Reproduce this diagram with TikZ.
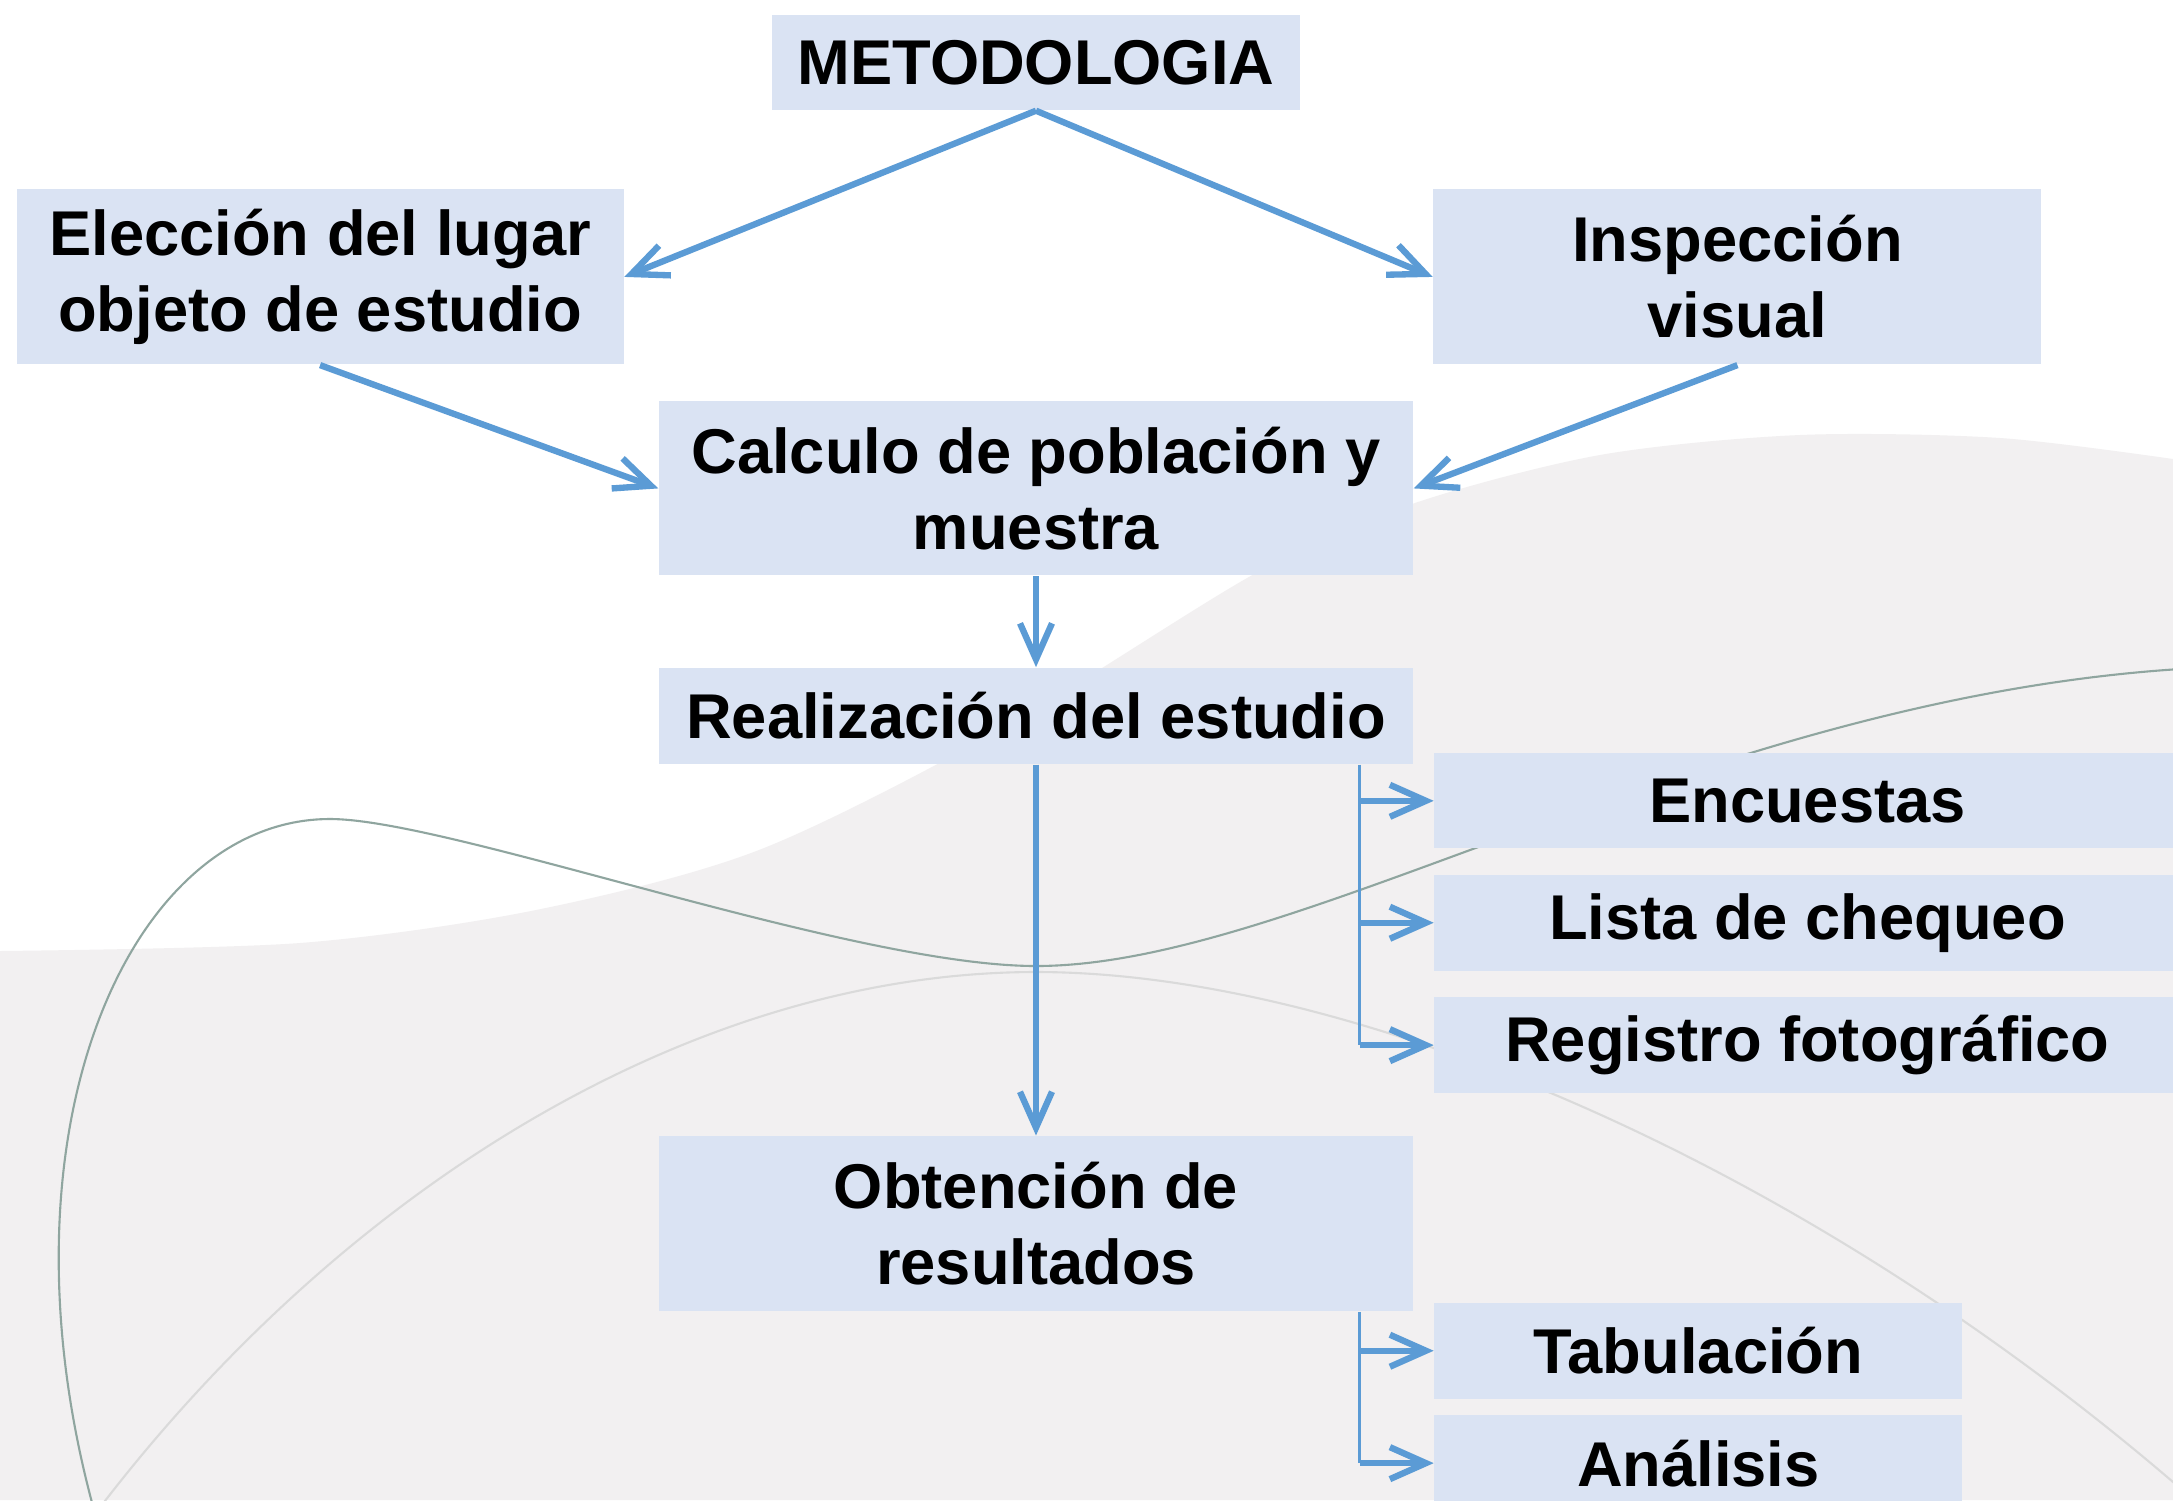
\documentclass[tikz,border=0pt]{standalone}
\usepackage{fontspec}
\setmainfont{Liberation Sans}
\usetikzlibrary{arrows.meta,positioning}
\definecolor{boxblue}{HTML}{DAE3F3}
\definecolor{arrowblue}{HTML}{5B9BD5}
\definecolor{bggray}{HTML}{F2F0F1}
\definecolor{wavegreen}{HTML}{8FA59F}
\definecolor{arcgray}{HTML}{DADADA}
\tikzset{
    -{Straight Barb[length=3.6mm,width=3.2mm]},semithick,
    block/.style ={fill=boxblue, inner sep=0pt, align=center,
                   font=\fontsize{18}{21.6}\selectfont\bfseries},
    flow/.style = {color=arrowblue, line width=1.8pt},
    trunk/.style = {-, draw=arrowblue, line width=0.7pt},
    wave/.style = {-, draw=wavegreen, line width=0.6pt},
    faint/.style = {-, draw=arcgray, line width=0.6pt}
}

\begin{document}
\begin{tikzpicture}
        % background
        \useasboundingbox (0,0) rectangle (21.73,-15);
        \fill[white] (0,0) rectangle (21.73,-15);
        \fill[bggray] plot[smooth] coordinates {(0,-9.51) (3.0,-9.43) (5.36,-9.10)
            (7.59,-8.50) (10.0,-7.3) (12.56,-5.73) (14.12,-5.04) (16.0,-4.55)
            (18.0,-4.35) (20.0,-4.38) (21.8,-4.6)} -- (21.8,-15) -- (0,-15) -- cycle;
        \draw[wave] (0.94,-15.1) .. controls (-0.1,-11.3) and (1.3,-8.19) .. (3.30,-8.19)
            .. controls (4.5,-8.19) and (8.5,-9.66) .. (10.36,-9.66)
            .. controls (13.0,-9.66) and (17.0,-7.0) .. (21.80,-6.69);
        \draw[faint] (0.98,-15.1) .. controls (3.5,-11.8) and (7.0,-9.72) .. (10.36,-9.72)
            .. controls (13.5,-9.72) and (18.0,-11.6) .. (21.80,-14.88);

        \node[block, minimum width=5.28cm, minimum height=0.95cm] (1) at (10.36,-0.625) {METODOLOGIA};
        \node[block, minimum width=6.07cm, minimum height=1.75cm] (2) [below left=0.78cm and 1.47cm of 1] {Elección del lugar\\objeto de estudio};
        \node[block, minimum width=6.08cm, minimum height=1.75cm] (3) [below right=0.78cm and 1.32cm of 1] {Inspección\\visual};
        \node[block, minimum width=7.54cm, minimum height=1.74cm] (4) [below=2.90cm of 1] {Calculo de población y\\muestra};
        \node[block, minimum width=7.54cm, minimum height=0.96cm] (5) [below=0.91cm of 4] {Realización del estudio};
        \node[block, minimum width=7.46cm, minimum height=0.95cm] (6) [right=0.20cm of 5, yshift=-0.85cm] {Encuestas};
        \node[block, minimum width=7.46cm, minimum height=0.96cm] (7) [below=0.25cm of 6] {Lista de chequeo};
        \node[block, minimum width=7.46cm, minimum height=0.96cm] (8) [below=0.25cm of 7] {Registro fotográfico};
        \node[block, minimum width=7.54cm, minimum height=1.75cm] (9) [below=3.71cm of 5] {Obtención de\\resultados};
        \node[block, minimum width=5.28cm, minimum height=0.96cm] (10) [right=0.20cm of 9, yshift=-1.27cm] {Tabulación};
        \node[block, minimum width=5.28cm, minimum height=0.96cm] (11) [below=0.15cm of 10] {Análisis};

        \coordinate (b1) at ([xshift=-0.54cm]5.south east);
        \coordinate (b2) at ([xshift=-0.54cm]9.south east);

        \path[flow] (1.south) edge (2.east);
        \path[flow] (1.south) edge (3.west);
        \path[flow] (2.south) edge (4.west);
        \path[flow] (3.south) edge (4.east);
        \path[flow] (4.south) edge (5.north);
        \path[flow] (5.south) edge (9.north);
        \draw[trunk] (b1) -- (b1 |- 8.west);
        \path[flow] (b1 |- 6.west) edge (6.west);
        \path[flow] (b1 |- 7.west) edge (7.west);
        \path[flow] (b1 |- 8.west) edge (8.west);
        \draw[trunk] (b2) -- (b2 |- 11.west);
        \path[flow] (b2 |- 10.west) edge (10.west);
        \path[flow] (b2 |- 11.west) edge (11.west);

    \end{tikzpicture}
\end{document}
